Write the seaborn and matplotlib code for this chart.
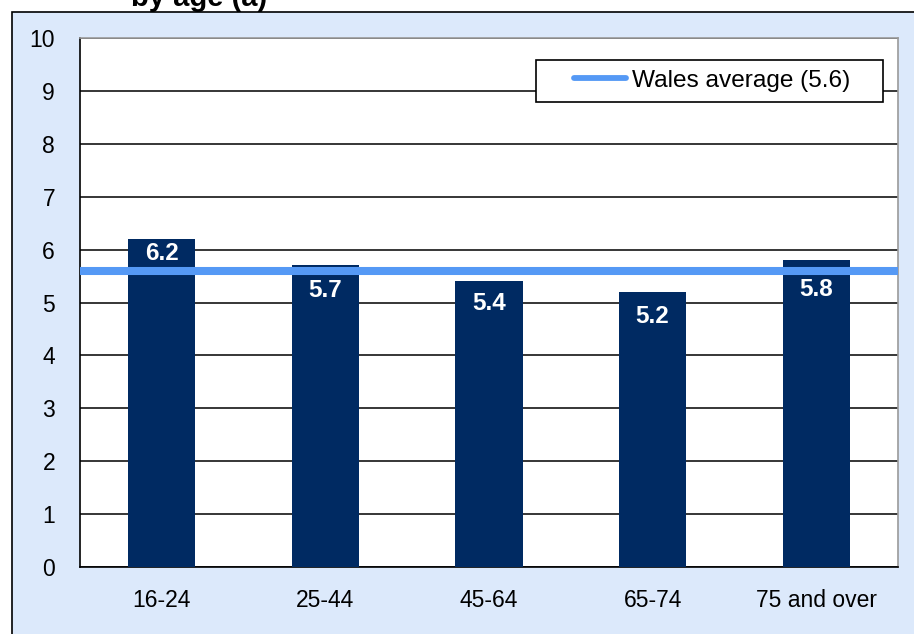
import pandas as pd
import matplotlib.pyplot as plt
import matplotlib.patches as mpatches
from matplotlib.legend_handler import HandlerLine2D
import seaborn as sns

# data
ages = ["16-24", "25-44", "45-64", "65-74", "75 and over"]
scores = [6.2, 5.7, 5.4, 5.2, 5.8]
wales_avg = 5.6
avg_label = "Wales average (5.6)"
title = "by age (a)"

# label distance below bar top (px), excel nudged the first one up
label_pad = [14, 25, 22, 25, 29]

df = pd.DataFrame({"age": ages, "score": scores})

sns.set_theme(style="white")
plt.rcParams['font.family'] = ['Liberation Sans', 'DejaVu Sans']
plt.rcParams['text.color'] = 'black'
plt.rcParams['xtick.color'] = 'black'
plt.rcParams['ytick.color'] = 'black'

bg = "#DCE9FB"
navy = "#002A62"
avg_col = "#5599F5"

fig = plt.figure(figsize=(9.14, 6.34), dpi=100)
fig.patch.set_facecolor("white")
# light blue chart area with black border (cut at right/bottom)
fig.patches.append(mpatches.Rectangle((12/914, -0.1), 1.2, 1.1 - 12/634,
                                      transform=fig.transFigure, facecolor=bg,
                                      edgecolor="black", linewidth=1.2, zorder=-10))

ax = fig.add_axes([80/914, 1 - 567/634, (898-80)/914, (567-38)/634])
ax.set_facecolor("white")

sns.barplot(data=df, x="age", y="score", color=navy, width=0.41,
            saturation=1, linewidth=0, edgecolor=navy, ax=ax, zorder=3)

ax.axhline(wales_avg, color=avg_col, linewidth=5.8, zorder=4, label=avg_label)

ax.set_ylim(0, 10)
ax.set_xlim(-0.5, len(ages) - 0.5)
ax.set_yticks(range(0, 11))
ax.yaxis.grid(True, color="black", linewidth=1.1, zorder=0)
ax.set_axisbelow(True)

# category boundary ticks on x
ax.set_xticks([i - 0.5 for i in range(len(ages) + 1)], minor=False)
ax.set_xticklabels([])
ax.set_xticks(range(len(ages)), minor=True)
ax.set_xticklabels(ages, minor=True, fontsize=16.5)
ax.tick_params(axis="x", which="minor", length=0, pad=15.5)
ax.tick_params(axis="x", which="major", length=6, width=1.2, color="black", direction="out")
ax.tick_params(axis="y", length=6, width=1.2, color="black", direction="out", labelsize=16.5, pad=12)
ax.set_xlabel("")
ax.set_ylabel("")

for s in ["left", "bottom"]:
    ax.spines[s].set_color("black")
    ax.spines[s].set_linewidth(1.2)
for s in ["top", "right"]:
    ax.spines[s].set_color("#9A9A9A")
    ax.spines[s].set_linewidth(1.2)

for i, (v, p) in enumerate(zip(scores, label_pad)):
    ax.annotate(f"{v}", (i, v), xytext=(0, -p * 0.72), textcoords="offset points",
                ha="center", va="center", color="white", fontsize=17.5,
                fontweight="bold", zorder=5)


# legend line sits in the right part of the handle area, with round caps
class PadHandler(HandlerLine2D):
    def create_artists(self, legend, orig, xdescent, ydescent, width, height, fontsize, trans):
        arts = super().create_artists(legend, orig, xdescent, ydescent, width, height, fontsize, trans)
        line = arts[0]
        xs = line.get_xdata()
        ys = line.get_ydata()
        x0, x1 = xs[0], xs[-1]
        line.set_data([x0 + 0.4 * (x1 - x0), x1], [ys[0], ys[-1]])
        line.set_linewidth(4.2)
        line.set_solid_capstyle("round")
        return arts


# legend frame drawn as a box in figure coords
fig.patches.append(mpatches.Rectangle((536/914, 1 - 102/634), (883-536)/914, 42/634,
                                      transform=fig.transFigure, facecolor="white",
                                      edgecolor="black", linewidth=1.2, zorder=5))
leg = ax.legend(loc="center left", bbox_to_anchor=(540/914, 1 - 81/634),
                bbox_transform=fig.transFigure, frameon=False,
                fontsize=17.6, handlelength=3.5, borderpad=0, borderaxespad=0,
                handletextpad=0.25, handler_map={plt.Line2D: PadHandler()})
leg.set_zorder(6)
leg.remove()
fig.add_artist(leg)

fig.text(199/914, 1 - 6/634, title, ha="center", va="baseline",
         fontsize=21, fontweight="bold", color="black")

fig.savefig("out.png", dpi=100, facecolor=fig.get_facecolor())
